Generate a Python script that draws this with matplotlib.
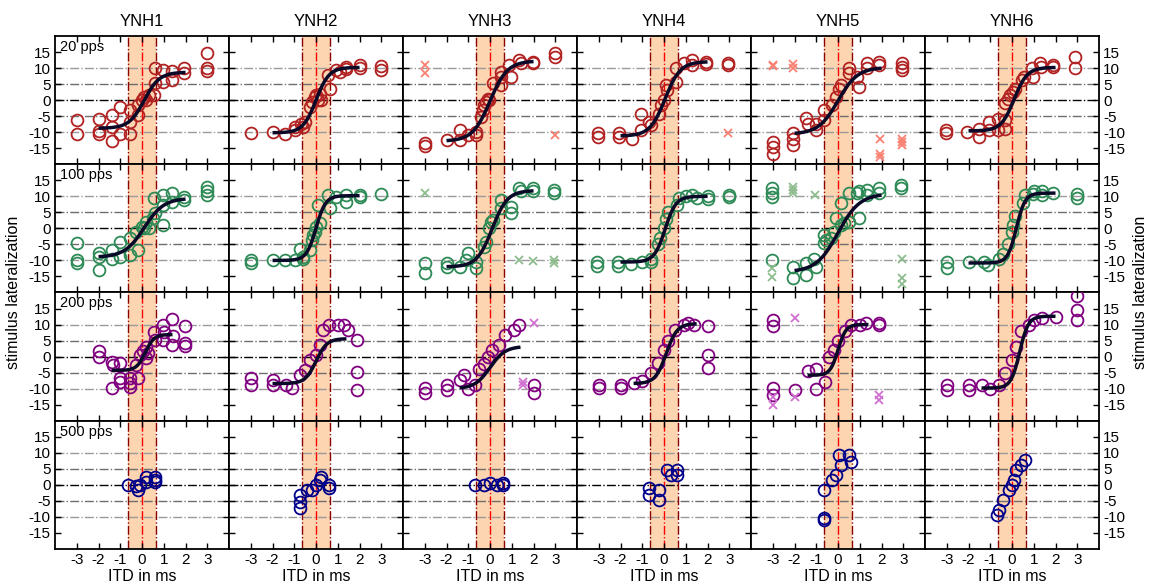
import numpy as np
import matplotlib
matplotlib.use('Agg')
import matplotlib.pyplot as plt

plt.rcParams['font.family'] = ['Liberation Sans', 'DejaVu Sans']
plt.rcParams['axes.unicode_minus'] = False

subjects = ['YNH1', 'YNH2', 'YNH3', 'YNH4', 'YNH5', 'YNH6']
rates = ['20 pps', '100 pps', '200 pps', '500 pps']

# responses (ITD in ms, lateralization) per subject, one list per rate
resp_20pps = [
    [(-3, -6.3), (-3, -10.5), (-2, -6), (-2, -9.5), (-2, -10.5), (-1.4, -4.7), (-1.4, -8.4), (-1.4, -12.8),
     (-1, -2.3), (-1, -10.5), (-0.56, -3.2), (-0.56, -6.8), (-0.56, -10.5), (-0.18, -4.7), (-0.18, -1.6),
     (0, 0), (0.1, 1), (0.2, 0), (0.3, 1.5), (0.53, 1.6), (0.58, 5.3), (0.58, 10), (0.96, 9.5), (0.96, 5.8),
     (1.38, 9), (1.38, 6.3), (1.95, 10), (1.95, 8.4), (3, 14.7), (3, 10), (3, 9)],
    [(-3, -10.4), (-2, -9.9), (-1.44, -10.7), (-0.98, -9.4), (-0.98, -8.3), (-0.67, -7.3), (-0.6, -8.3),
     (-0.5, -6.8), (-0.3, -2), (-0.17, -0.5), (-0.06, 1), (0.02, 1.6), (0.1, 0), (0.17, 2), (0.24, 0),
     (0.63, 3.6), (0.55, 7.8), (0.93, 9.4), (1.08, 8.9), (1.4, 10.4), (1.4, 9.6), (2, 11), (2, 9.9),
     (3, 10.6), (3, 9.4)],
    [(-3, -13.4), (-3, -14.3), (-2, -12.5), (-1.4, -9.4), (-1.4, -12.5), (-1, -10.9), (-0.65, -9.9),
     (-0.65, -10.9), (-0.4, -5.2), (-0.33, -3.1), (-0.26, -1.6), (-0.18, -0.5), (-0.1, 0.5), (-0.03, 0),
     (0.12, 5.2), (0.5, 4.7), (0.5, 7.3), (0.5, 8.9), (0.95, 7.3), (0.88, 10.9), (1.35, 12.5), (1.42, 11.5),
     (1.96, 12), (1.96, 11.5), (3, 14.6), (3, 13.5)],
    [(-3.05, -10.4), (-3.05, -11.5), (-2.06, -10.4), (-2.06, -11.5), (-1.45, -12), (-1.07, -9.4),
     (-1.07, -4.2), (-0.69, -6.8), (-0.6, -7.8), (-0.23, -4.2), (-0.15, -1.6), (0, 0), (0.08, 4.7),
     (0.15, 3.1), (0.53, 5.7), (0.53, 9.9), (0.92, 11.5), (1.3, 12.5), (1.3, 10.9), (1.91, 12), (1.91, 11.2),
     (2.95, 11.5), (2.95, 10.8)],
    [(-3, -13), (-3, -14.6), (-3, -16.7), (-2.05, -10.4), (-2.05, -12), (-2.05, -14), (-1.48, -5.7),
     (-1.4, -7.3), (-1.02, -7.3), (-1.02, -9.4), (-0.64, -3.1), (-0.64, -6.3), (-0.26, -1.6), (-0.1, 1),
     (0.05, 3.6), (0.12, 4.7), (0.5, 9.9), (0.5, 8.3), (0.89, 7.3), (0.96, 4.2), (1.35, 11.5), (1.35, 9.9),
     (1.88, 12), (1.88, 10.9), (2.95, 11.5), (2.95, 10.4), (2.95, 9.4)],
    [(-3.05, -9.4), (-3.05, -10.4), (-2.06, -9.9), (-1.53, -8.9), (-1.53, -11.5), (-1.07, -9.4),
     (-1.07, -6.8), (-0.66, -9.4), (-0.66, -6), (-0.3, -8.9), (-0.3, -6.3), (-0.33, -1), (-0.18, 0.5),
     (-0.08, 1.6), (0.03, 2.6), (0.15, 3.6), (0.46, 6.3), (0.53, 7.3), (0.92, 9.9), (0.95, 7.3), (1.3, 11.5),
     (1.35, 10.4), (1.9, 10.9), (1.9, 10.2), (2.9, 13.5), (2.9, 9.9)],
]
resp_100pps = [
    [(-3, -4.7), (-3, -9.9), (-3, -10.7), (-2, -7.8), (-2, -8.9), (-2, -13), (-1.4, -6.8), (-1.4, -9.4),
     (-1.02, -4.2), (-1.02, -8.9), (-0.56, -3.1), (-0.56, -8.3), (-0.26, -1), (-0.18, -6.8), (0, 0.5),
     (0.1, 0), (0.2, 2), (0.3, 0), (0.5, 3.1), (0.58, 4.7), (0.53, 9.4), (0.96, 10.4), (0.96, 7.3),
     (0.96, 1), (1.38, 10.9), (1.38, 8.3), (1.95, 9.9), (1.95, 8.9), (2.97, 13), (2.97, 11.8), (2.97, 10.4)],
    [(-3, -9.9), (-3, -10.9), (-2, -9.9), (-1.44, -9.9), (-0.98, -9.9), (-0.6, -9.4), (-0.75, -6.3),
     (-0.6, -8.9), (-0.3, -6.8), (-0.2, -3.6), (-0.14, -2.1), (-0.06, -1), (0.02, 0.5), (0.17, 1.6),
     (0.1, 7.3), (0.63, 6.3), (0.55, 10.4), (0.93, 9.9), (1.4, 10.4), (1.4, 8.3), (2, 10.4), (2, 9.7),
     (3, 10.6)],
    [(-3, -10.9), (-3, -13.9), (-2, -10.9), (-2, -12), (-1.4, -12), (-1.1, -9.9), (-1, -7.8), (-0.65, -10.4),
     (-0.65, -12.5), (-0.26, -5.7), (-0.18, -4.2), (-0.03, 0), (0.05, 2.1), (0.12, 2.6), (0.5, 8.9),
     (0.5, 6.3), (0.96, 6.8), (0.96, 4.7), (1.35, 12.5), (1.42, 11.5), (1.96, 12.5), (1.96, 11.5),
     (2.95, 12), (2.95, 10.9)],
    [(-3.07, -10.6), (-3.07, -11.8), (-2.1, -10.6), (-2.1, -11.8), (-1.5, -11), (-1, -10.6), (-0.6, -9.4),
     (-0.6, -10.5), (-0.3, -5), (-0.2, -3), (0, 0), (0.1, 3), (0.2, 5), (0.6, 7.3), (0.7, 9.5), (1, 10),
     (1.3, 10.3), (1.5, 9.5), (2, 10), (2, 9.2), (3, 10.5), (3, 9.8)],
    [(-3.05, 12.5), (-3.05, 10.9), (-3.05, 9.9), (-3.05, -9.9), (-2.05, -12), (-2.05, -15.6), (-1.48, -10.9),
     (-1.48, -14.6), (-1.1, -9.4), (-1.02, -12), (-0.64, -2.1), (-0.64, -4.7), (-0.57, -3.6), (-0.34, -3.1),
     (-0.18, -1), (-0.1, 3.1), (0.12, 1), (0.12, 7.8), (0.27, 1.6), (0.5, 2.1), (0.96, 3.1), (0.5, 10.9),
     (0.89, 10.9), (0.96, 11.5), (1.35, 12), (1.35, 10.4), (1.88, 12.5), (1.88, 10.9), (2.9, 13.5),
     (2.9, 12.5)],
    [(-3, -10.6), (-3, -12.5), (-2, -10.6), (-1.3, -10.6), (-1.1, -11.5), (-0.6, -9.4), (-0.4, -8),
     (-0.2, -5), (0, -1), (0.05, 1), (0.15, 4), (0.5, 8), (0.6, 10.5), (0.95, 10.8), (1, 11.5), (1.4, 11.5),
     (1.4, 10.5), (1.9, 10.9), (3, 10.8), (3, 9.6)],
]
resp_200pps = [
    [(-2, 1.6), (-2, 0), (-1.4, -1.6), (-1.32, -2.6), (-1.02, -2.1), (-1.02, -6.8), (-1.02, -7.8),
     (-1.4, -9.9), (-0.56, -6.8), (-0.56, -8.3), (-0.56, -9.4), (-0.18, -6.8), (-0.26, -2.6), (-0.1, 0.5),
     (0.05, 1.6), (0.2, 3.1), (0.2, -0.5), (0.27, 1), (0.53, 7.8), (0.58, 5.2), (0.96, 9.9), (0.96, 5.2),
     (1.03, 7.8), (1.38, 11.7), (1.42, 6.3), (1.38, 3.6), (1.98, 9.6), (1.98, 4.2), (1.98, 3.3)],
    [(-3, -6.7), (-3, -8.9), (-2, -7.3), (-2, -8.9), (-1.4, -8.9), (-1.1, -9.8), (-0.75, -5.8), (-0.5, -4.2),
     (-0.3, -1), (0, 0.5), (0.2, 3.5), (0.3, 8.3), (0.6, 9.8), (1, 9.8), (1.3, 9.8), (1.45, 8.3), (1.9, 5.2),
     (1.9, -4.8), (1.9, -10.4)],
    [(-3, -9.8), (-3, -11.4), (-2, -8.9), (-2, -10.4), (-1.4, -7.3), (-1.2, -5.8), (-1, -10), (-0.7, -9),
     (-0.5, -3.8), (-0.3, -2.2), (-0.1, 0), (0.1, 2), (0.4, 3.5), (0.7, 6.7), (1.1, 8.3), (1.35, 9.8),
     (2, -8.9), (2, -11.4)],
    [(-3, -8.9), (-3, -9.8), (-2, -8.9), (-2, -9.8), (-1.4, -8.3), (-1, -7.5), (-0.6, -5), (-0.3, -2),
     (0, 2), (0.2, 5), (0.5, 8.3), (0.9, 10), (1.1, 10.5), (1.4, 10), (2, 9.5), (2, 0.5), (2, -3.5)],
    [(-3, 11.4), (-3, 9.4), (-3, -9.8), (-3, -12), (-2, -10.4), (-1.4, -4.5), (-1, -4), (-1, -10),
     (-0.6, -8), (-0.4, 0), (-0.2, 2), (0, 5), (0.3, 8), (0.6, 10), (1, 10), (1.3, 10.5), (1.9, 10),
     (1.9, 10.5)],
    [(-3, -8.9), (-3, -10.4), (-2, -8.9), (-2, -10.4), (-1.4, -9), (-1, -10), (-0.6, -9), (-0.3, -5),
     (0, -1), (0.2, 3), (0.4, 8), (0.8, 10), (1, 11.5), (1.4, 12), (2, 12.5), (3, 11.4), (3, 14.5), (3, 19)],
]
resp_500pps = [
    [(-0.64, 0), (-0.26, -0.2), (-0.18, -1.6), (-0.1, 0), (0.2, 2.6), (0.2, 1), (0.58, 2.6), (0.58, 1.6),
     (0.58, 1)],
    [(-0.75, -3.1), (-0.75, -5.3), (-0.75, -7.2), (-0.4, -1.5), (-0.2, -1.5), (0, 0), (0.2, 1.6),
     (0.25, 2.5), (0.6, 0), (0.6, -1)],
    [(-0.7, 0), (-0.3, 0), (0, 0.5), (0.3, 0), (0.6, 0.6), (0.6, 0)],
    [(-0.7, -1), (-0.7, -3.1), (-0.25, -1.6), (-0.25, -4.7), (0.15, 4.7), (0.3, 3.1), (0.6, 4.7), (0.6, 3)],
    [(-0.64, -10.3), (-0.64, -10.9), (-0.64, -1.6), (-0.27, 1.6), (-0.1, 3.1), (0.05, 9.4), (0.14, 6.3),
     (0.5, 9.4), (0.6, 7.2)],
    [(-0.7, -9.4), (-0.6, -7.8), (-0.4, -4.7), (-0.16, -1.6), (0, 0), (0.1, 1.5), (0.2, 4.7), (0.4, 6.3),
     (0.6, 7.8)],
]

# excluded responses (drawn as crosses)
excl_20pps = [[], [], [(-3, 11.1), (-3, 8.3), (3, -10.9)], [(2.95, -10.4)],
              [(-3, 11), (-3, 10.5), (-2.05, 11.2), (-2.05, 10), (1.95, -12), (1.95, -16.7), (1.95, -17.7),
               (2.95, -12), (2.95, -13), (2.95, -14)], []]
excl_100pps = [[], [], [(-3, 10.9), (1.35, -9.9), (1.96, -10.2), (2.95, -9.9), (2.95, -10.9)], [],
               [(-2.05, 13), (-2.05, 12), (-2.05, 10.9), (-1.05, 10.4), (-3.05, -12.5), (-3.05, -15.1),
                (2.95, -9.4), (2.95, -15.6), (2.95, -17.2)], []]
excl_200pps = [[], [], [(2, 10.5), (1.5, -9), (1.5, -8)], [],
               [(-3, -12.5), (-3, -15), (-2, 12), (-2, -12.5), (1.9, -12), (1.9, -13.5)], []]
excl_500pps = [[], [], [], [], [], []]

# logistic fits: lower, upper, midpoint, slope, ITD from, ITD to
fit_20pps = [(-8.8, 8.7, 0.1, 0.35, -2, 2), (-10.2, 10.2, 0.0, 0.3, -2, 2), (-12.8, 12.2, 0.0, 0.4, -2, 2),
             (-11.2, 12, 0.05, 0.35, -2, 2), (-10.6, 10.2, 0.0, 0.45, -2, 2), (-9.6, 10.2, 0.1, 0.3, -2, 2)]
fit_100pps = [(-9, 9.4, 0.1, 0.45, -2, 2), (-10, 10.2, 0.0, 0.22, -2, 2), (-12, 11.8, 0.1, 0.35, -2, 2),
              (-10.5, 10, 0.05, 0.25, -2, 2), (-13.6, 10.8, 0.0, 0.5, -2, 2), (-10.8, 11, 0.2, 0.2, -2, 2)]
fit_200pps = [(-4.3, 6.9, 0.15, 0.2, -1.4, 1.4), (-8.4, 5.6, 0.0, 0.25, -2, 1.4),
              (-10, 3.2, 0.0, 0.35, -1.4, 1.4), (-8.4, 10.3, 0.1, 0.25, -1.4, 1.5),
              (-5.8, 10, 0.0, 0.18, -1.4, 1.4), (-9.8, 12.6, 0.35, 0.2, -1.4, 2)]
fit_500pps = [None] * 6

resp = [resp_20pps, resp_100pps, resp_200pps, resp_500pps]
excl = [excl_20pps, excl_100pps, excl_200pps, excl_500pps]
fits = [fit_20pps, fit_100pps, fit_200pps, fit_500pps]
col_main = ['#b22222', '#2e8b57', '#800080', '#00008b']
col_excl = ['#fa8072', '#8fbc8f', '#d070d0', '#6a6ad0']

fig, axes = plt.subplots(4, 6, figsize=(11.49, 5.84), dpi=100, sharex=True, sharey=True)
fig.subplots_adjust(left=0.0479, right=0.9565, top=0.9384, bottom=0.0599, wspace=0, hspace=0)

for r in range(4):
    for c in range(6):
        ax = axes[r, c]
        ax.axvspan(-0.65, 0.65, color='#fdd5b1', lw=0, zorder=0)
        for yv, gc in [(-10, '#9a9a9a'), (-5, '#6e6e6e'), (5, '#6e6e6e'), (10, '#9a9a9a')]:
            ax.axhline(yv, color=gc, ls='-.', lw=1, zorder=1)
        ax.axhline(0, color='k', ls='-.', lw=1, zorder=1)
        ax.axvline(-0.65, color='#8b0000', ls='-.', lw=1, zorder=1)
        ax.axvline(0.65, color='#8b0000', ls='-.', lw=1, zorder=1)
        ax.axvline(0, color='#ff0000', ls='-.', lw=1, zorder=1)

        pts = np.array(resp[r][c])
        ax.plot(pts[:, 0], pts[:, 1], 'o', mfc='none', mec=col_main[r], ms=8.5, mew=1.3, zorder=3)
        if excl[r][c]:
            ex = np.array(excl[r][c])
            ax.plot(ex[:, 0], ex[:, 1], 'x', color=col_excl[r], ms=6, mew=1.3, zorder=3)

        f = fits[r][c]
        if f is not None:
            lo, hi, x0, s, a, b = f
            xs = np.linspace(a, b, 200)
            ax.plot(xs, lo + (hi - lo) / (1 + np.exp(-(xs - x0) / s)), color='#0a0a28', lw=2.5,
                    solid_capstyle='butt', zorder=4)

        ax.set_xlim(-4, 4)
        ax.set_ylim(-20, 20)
        ax.set_xticks([-3, -2, -1, 0, 1, 2, 3])
        ax.set_yticks([-15, -10, -5, 0, 5, 10, 15])
        ax.tick_params(direction='in', top=True, right=True, length=4, width=1, labelsize=11,
                       labelleft=(c == 0), labelright=(c == 5), labelbottom=(r == 3), pad=3)
        for sp in ax.spines.values():
            sp.set_linewidth(1.3)

        if c == 0:
            ax.text(0.03, 0.97, rates[r], transform=ax.transAxes, va='top', ha='left', fontsize=10.5)
        if r == 0:
            ax.set_title(subjects[c], fontsize=12, pad=7)
        if r == 3:
            ax.set_xlabel('ITD in ms', fontsize=11.5, labelpad=1)

fig.text(0.005, 0.5, 'stimulus lateralization', rotation=90, va='center', ha='left', fontsize=11.5)
fig.text(0.999, 0.5, 'stimulus lateralization', rotation=90, va='center', ha='right', fontsize=11.5)

fig.savefig('out.png', dpi=100)
